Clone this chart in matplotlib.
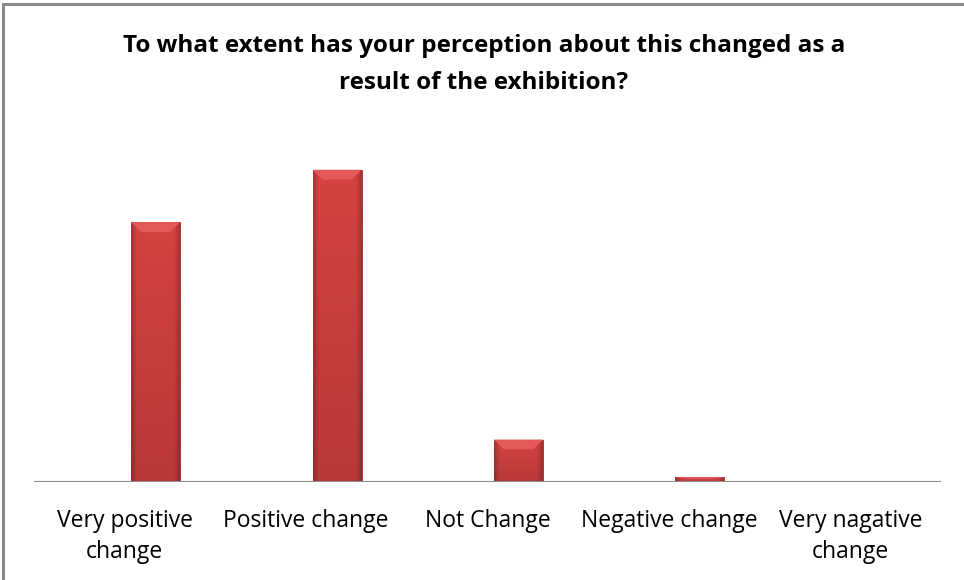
import matplotlib.pyplot as plt
import numpy as np
from matplotlib.colors import to_rgb
from matplotlib.patches import Polygon, Rectangle
from matplotlib import font_manager

categories = [
    "Very positive\nchange",
    "Positive change",
    "Not Change",
    "Negative change",
    "Very nagative\nchange",
]
values = [42.0, 50.5, 6.8, 0.7, 0.0]
title = "To what extent has your perception about this changed as a\nresult of the exhibition?"

names = {f.name for f in font_manager.fontManager.ttflist}
family = "Liberation Sans Narrow" if "Liberation Sans Narrow" in names else "Open Sans"
plt.rcParams["font.family"] = [family, "DejaVu Sans"]

fig = plt.figure(figsize=(9.64, 5.8), dpi=100)
ax = fig.add_axes([0.0353, 0.1698, 0.941, 0.5716])

x = np.arange(len(categories))
offset, width = 0.17, 0.27
bars = ax.bar(x + offset, values, width=width, color="#cf3b3b",
              edgecolor="#9e2a2a", linewidth=0.6, zorder=2)

# shading on each bar: darker sides and bottom, lighter top bevel
base = np.array(to_rgb("#d64242"))
nx, ny = 60, 60
u = np.linspace(0, 1, nx)
v = np.linspace(0, 1, ny)
side = 1 - 0.22 * np.clip(1 - np.minimum(u, 1 - u) / 0.12, 0, 1)
vert = 1 - 0.14 * v
shade = np.outer(vert, side)
img = np.clip(base[None, None, :] * shade[:, :, None], 0, 1)

ymax = 53.7
for b in bars:
    h = b.get_height()
    if h <= 0:
        continue
    x0, x1 = b.get_x(), b.get_x() + b.get_width()
    im = ax.imshow(img, extent=[x0, x1, 0, h], aspect="auto", origin="upper",
                   zorder=2.5, interpolation="bilinear")
    im.set_clip_path(b)
    dy = min(1.6, h * 0.35)
    dx = 0.055
    ax.add_patch(Polygon([(x0, h), (x1, h), (x1 - dx, h - dy), (x0 + dx, h - dy)],
                         closed=True, facecolor="#e45a5a", edgecolor="none", zorder=3))
ax.set_ylim(0, ymax)
ax.set_xlim(-0.5, len(categories) - 0.5)

ax.axhline(0, color="#8c8c8c", lw=1.5, zorder=4)
for s in ["top", "right", "left", "bottom"]:
    ax.spines[s].set_visible(False)
ax.set_yticks([])
ax.set_xticks(x)
ax.set_xticklabels(categories, fontsize=16.5, linespacing=1.4)
ax.tick_params(axis="x", length=0, pad=20)

fig.text(0.502, 0.889, title, ha="center", va="center", fontsize=17.5,
         fontweight="bold", linespacing=1.75)

# chart border (only top and left edges fall inside the image)
fig.add_artist(Rectangle((0.0035, -0.05), 1.1, 1.0435, transform=fig.transFigure,
                         fill=False, edgecolor="#8a8a8a", lw=2.2))

fig.savefig("out.png", dpi=100)
